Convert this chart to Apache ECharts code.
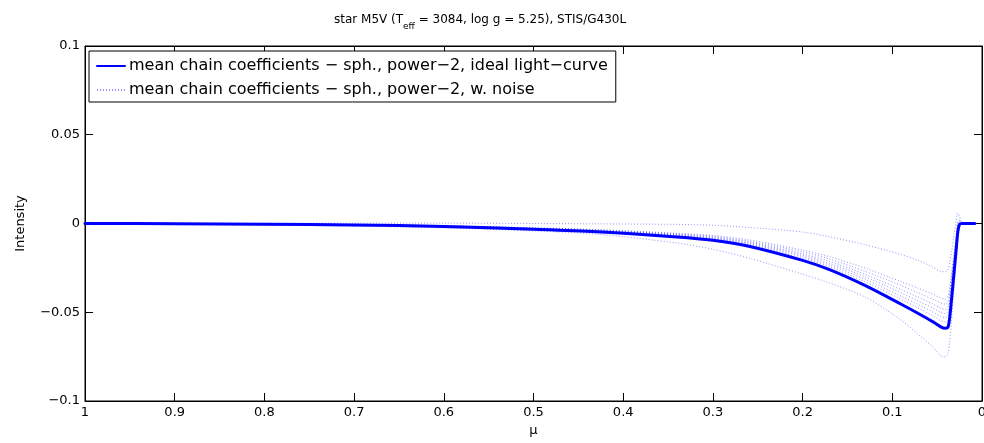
<!DOCTYPE html>
<html>
<head>
<meta charset="utf-8">
<script src="https://cdn.jsdelivr.net/npm/echarts@6/dist/echarts.min.js"></script>
<style>
html,body{margin:0;padding:0;background:#fff;}
#chart{width:984px;height:443px;}
</style>
</head>
<body>
<div id="chart"></div>
<script>
// mu grid (x values)
const mu = [1, 0.9, 0.8, 0.7, 0.6, 0.5, 0.43, 0.34, 0.3, 0.26, 0.2, 0.17, 0.13, 0.09, 0.07, 0.055, 0.046, 0.041, 0.038, 0.036, 0.034, 0.031, 0.029, 0.027, 0.025, 0.022, 0.015, 0.008];

// mean chain coefficients, ideal light-curve
const idealCurve = [0, -0.0001, -0.0004, -0.0008, -0.0017, -0.0033, -0.0047, -0.0076, -0.0095, -0.0128, -0.0208, -0.026, -0.035, -0.0455, -0.051, -0.0553, -0.0582, -0.059, -0.0585, -0.053, -0.043, -0.027, -0.016, -0.005, -0.0005, 0, 0, 0];

// mean chain coefficients, with noise (several realizations)
const noiseA = [0, 0, 0.0001, 0.0002, 0.0002, 0, -0.0002, -0.0005, -0.001, -0.0022, -0.0048, -0.0075, -0.012, -0.0175, -0.021, -0.0245, -0.027, -0.0272, -0.026, -0.022, -0.016, -0.006, 0.001, 0.006, 0.004, 0.0005, 0, 0];
const noiseB = [0, -0.0001, -0.0003, -0.0006, -0.0012, -0.0024, -0.0034, -0.0055, -0.0068, -0.0092, -0.015, -0.0187, -0.0252, -0.0328, -0.0367, -0.0398, -0.0419, -0.0425, -0.041, -0.036, -0.028, -0.016, -0.008, 0.001, 0.002, 0.0005, 0, 0];
const noiseC = [0, -0.0001, -0.0003, -0.0006, -0.0013, -0.0025, -0.0036, -0.0059, -0.0073, -0.0099, -0.016, -0.02, -0.027, -0.035, -0.0393, -0.0426, -0.0448, -0.0454, -0.044, -0.039, -0.03, -0.018, -0.009, 0, 0.0015, 0.0003, 0, 0];
const noiseD = [0, -0.0001, -0.0003, -0.0007, -0.0014, -0.0027, -0.0039, -0.0062, -0.0078, -0.0105, -0.0171, -0.0213, -0.0287, -0.0373, -0.0418, -0.0453, -0.0477, -0.0484, -0.047, -0.042, -0.032, -0.019, -0.01, -0.002, 0.001, 0, 0, 0];
const noiseE = [0, -0.0001, -0.0003, -0.0007, -0.0015, -0.0028, -0.004, -0.0065, -0.0082, -0.011, -0.0179, -0.0224, -0.0301, -0.0391, -0.0439, -0.0476, -0.0501, -0.0507, -0.0495, -0.044, -0.034, -0.021, -0.011, -0.003, 0.0005, 0, 0, 0];
const noiseF = [0, -0.0001, -0.0004, -0.0007, -0.0015, -0.003, -0.0042, -0.0068, -0.0086, -0.0115, -0.0187, -0.0234, -0.0315, -0.041, -0.0459, -0.0498, -0.0524, -0.0531, -0.052, -0.047, -0.037, -0.023, -0.012, -0.003, 0, 0, 0, 0];
const noiseG = [0, -0.0001, -0.0004, -0.0008, -0.0016, -0.0031, -0.0044, -0.0071, -0.0089, -0.012, -0.0196, -0.0244, -0.0329, -0.0428, -0.0479, -0.052, -0.0547, -0.0555, -0.055, -0.05, -0.04, -0.025, -0.014, -0.004, 0, 0, 0, 0];
const noiseH = [0, -0.0004, -0.0009, -0.0015, -0.0025, -0.0042, -0.006, -0.011, -0.0145, -0.0195, -0.0285, -0.0335, -0.0415, -0.0545, -0.063, -0.0695, -0.0745, -0.0752, -0.073, -0.066, -0.055, -0.035, -0.02, -0.007, -0.001, 0, 0, 0];
const noiseRuns = [noiseA, noiseB, noiseC, noiseD, noiseE, noiseF, noiseG, noiseH];

// tick labels
const xTicks = [0, 0.1, 0.2, 0.3, 0.4, 0.5, 0.6, 0.7, 0.8, 0.9, 1];
const xTickLabels = ['0', '0.1', '0.2', '0.3', '0.4', '0.5', '0.6', '0.7', '0.8', '0.9', '1'];
const yTicks = [-0.1, -0.05, 0, 0.05, 0.1];
const yTickLabels = ['\u22120.1', '\u22120.05', '0', '0.05', '0.1'];

const mainName = 'mean chain coefficients \u2212 sph., power\u22122, ideal light\u2212curve';
const noiseName = 'mean chain coefficients \u2212 sph., power\u22122, w. noise';

const FONT = 'DejaVu Sans';

function lookup(ticks, labels, v) {
  for (let i = 0; i < ticks.length; i++) {
    if (Math.abs(ticks[i] - v) < 1e-9) return labels[i];
  }
  return '';
}

const chart = echarts.init(document.getElementById('chart'), null, {renderer: 'canvas'});

const axisCommonX = {
  type: 'value', min: 0, max: 1, interval: 0.1, inverse: true,
  axisLine: {show: true, onZero: false, lineStyle: {color: '#000', width: 1}},
  axisTick: {show: true, inside: true, length: 8, lineStyle: {color: '#000'}},
  splitLine: {show: false}
};
const axisCommonY = {
  type: 'value', min: -0.1, max: 0.1, interval: 0.05,
  axisLine: {show: true, onZero: false, lineStyle: {color: '#000', width: 1}},
  axisTick: {show: true, inside: true, length: 8, lineStyle: {color: '#000'}},
  splitLine: {show: false}
};

const series = noiseRuns.map(arr => ({
  name: noiseName,
  type: 'line',
  symbol: 'none',
  silent: true,
  smooth: 0.3,
  z: 2,
  data: mu.map((m, i) => [m, arr[i]]),
  itemStyle: {color: 'rgba(40,40,255,0.6)'},
  lineStyle: {color: 'rgba(40,40,255,0.5)', width: 1, type: [1, 2]}
}));
series.unshift({
  name: mainName,
  type: 'line',
  symbol: 'none',
  silent: true,
  smooth: 0.3,
  z: 3,
  data: mu.map((m, i) => [m, idealCurve[i]]),
  itemStyle: {color: '#0000ff'},
  lineStyle: {color: '#0000ff', width: 3, join: 'round', cap: 'round'}
});

chart.setOption({
  animation: false,
  backgroundColor: '#fff',
  title: {
    text: '{a|star M5V (T}{s|eff}{a| = 3084, log g = 5.25), STIS/G430L}',
    left: 329,
    top: 9,
    textStyle: {
      fontWeight: 'normal',
      rich: {
        a: {fontFamily: FONT, fontSize: 12, fontWeight: 'normal', color: '#000', lineHeight: 16, verticalAlign: 'top'},
        s: {fontFamily: FONT, fontSize: 9, fontWeight: 'normal', color: '#000', lineHeight: 16, verticalAlign: 'top', padding: [8, 0, 0, 0]}
      }
    }
  },
  legend: {
    data: [mainName, noiseName],
    orient: 'vertical',
    left: 89,
    top: 51,
    padding: [7, 8, 4, 7],
    itemWidth: 28,
    itemHeight: 14,
    itemGap: 8,
    borderColor: '#000',
    borderWidth: 1,
    backgroundColor: '#fff',
    selectedMode: false,
    itemStyle: {opacity: 0},
    textStyle: {fontFamily: FONT, fontSize: 16, color: '#000', lineHeight: 14, padding: [0, 0, 0, -1]}
  },
  grid: {left: 85, right: 2, top: 46, bottom: 42, show: true, outerBoundsMode: 'none', containLabel: false, borderColor: '#000', borderWidth: 1, backgroundColor: 'transparent'},
  xAxis: [
    Object.assign({}, axisCommonX, {
      position: 'bottom',
      name: '\u03bc',
      nameLocation: 'middle',
      nameGap: 22,
      nameTextStyle: {fontFamily: FONT, fontSize: 13, color: '#000'},
      axisLabel: {show: true, margin: 5, color: '#000', fontFamily: FONT, fontSize: 13,
        formatter: v => lookup(xTicks, xTickLabels, v)}
    }),
    Object.assign({}, axisCommonX, {position: 'top', axisLabel: {show: false}})
  ],
  yAxis: [
    Object.assign({}, axisCommonY, {
      position: 'left',
      name: 'Intensity',
      nameLocation: 'middle',
      nameGap: 58,
      nameTextStyle: {fontFamily: FONT, fontSize: 13, color: '#000'},
      axisLabel: {show: true, margin: 5, color: '#000', fontFamily: FONT, fontSize: 13,
        formatter: v => lookup(yTicks, yTickLabels, v)}
    }),
    Object.assign({}, axisCommonY, {position: 'right', axisLabel: {show: false}})
  ],
  series: series
});
</script>
</body>
</html>
